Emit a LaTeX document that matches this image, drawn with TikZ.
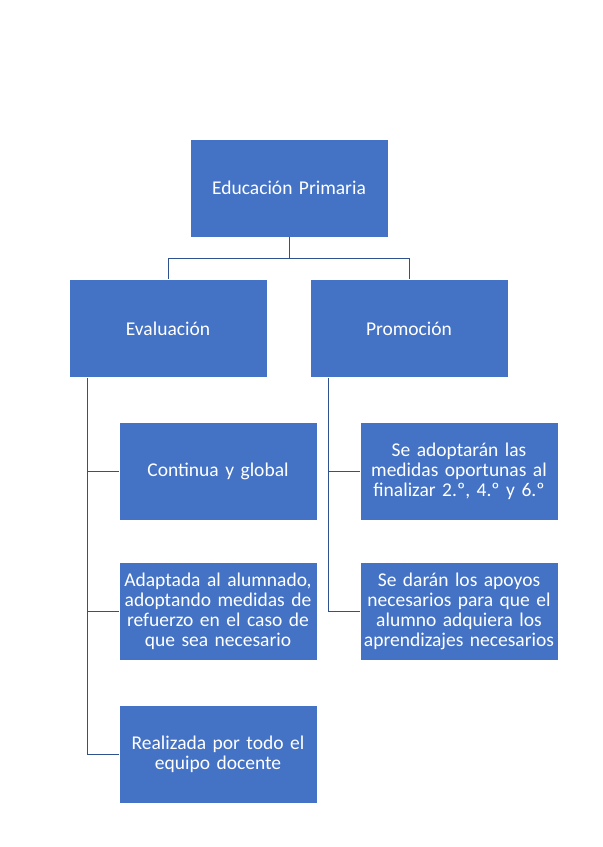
\documentclass[tikz,border=0pt]{standalone}
\usepackage{fontspec}
\setmainfont[WordSpace=0.8]{Carlito}
\usetikzlibrary{positioning}
\definecolor{boxblue}{HTML}{4472C4}
\definecolor{lineblue}{HTML}{2F528F}

\begin{document}
\begin{tikzpicture}[x=1pt,y=1pt,node distance=42pt,
	semithick]
	\tikzstyle{box}=[fill=boxblue,draw=white,line width=0.6pt,text=white,
	minimum width=198pt,minimum height=98pt,text width=196pt,align=center,
	inner sep=1pt,font=\fontsize{19.5}{20}\selectfont]
	\tikzstyle{link}=[draw=lineblue,line width=0.9pt]
	\useasboundingbox (0,0) rectangle (603,847);
	
	\node[box] (prim) at (289,659) {Educación Primaria};
	\node[box] (eval) [below=42pt of prim,xshift=-121pt] {Evaluación};
	\node[box] (prom) [below=42pt of prim,xshift=120pt] {Promoción};
	
	\node[box] (cont) [below=44pt of eval,xshift=50pt] {Continua y global};
	\node[box] (adap) [below=42pt of cont] {Adaptada al alumnado,\\ adoptando medidas de\\ refuerzo en el caso de\\ que sea necesario};
	\node[box] (real) [below=44pt of adap] {Realizada por todo el\\ equipo docente};
	
	\node[box] (medi) [below=44pt of prom,xshift=50pt] {Se adoptarán las\\ medidas oportunas al\\ finalizar 2.º, 4.º y 6.º};
	\node[box] (apoy) [below=42pt of medi] {Se darán los apoyos\\ necesarios para que el\\ alumno adquiera los\\ aprendizajes necesarios};
	
	\coordinate (evalbus) at ([xshift=19pt]eval.south west);
	\coordinate (prombus) at ([xshift=19pt]prom.south west);
	
	\path[link] (prim.south) -- ++(0,-21pt) -| (eval.north)
	            (prim.south) -- ++(0,-21pt) -| (prom.north)
	
	            (evalbus) |- (cont.west)
	            (evalbus) |- (adap.west)
	            (evalbus) |- (real.west)
	
	            (prombus) |- (medi.west)
	            (prombus) |- (apoy.west);
	
\end{tikzpicture}
\end{document}
